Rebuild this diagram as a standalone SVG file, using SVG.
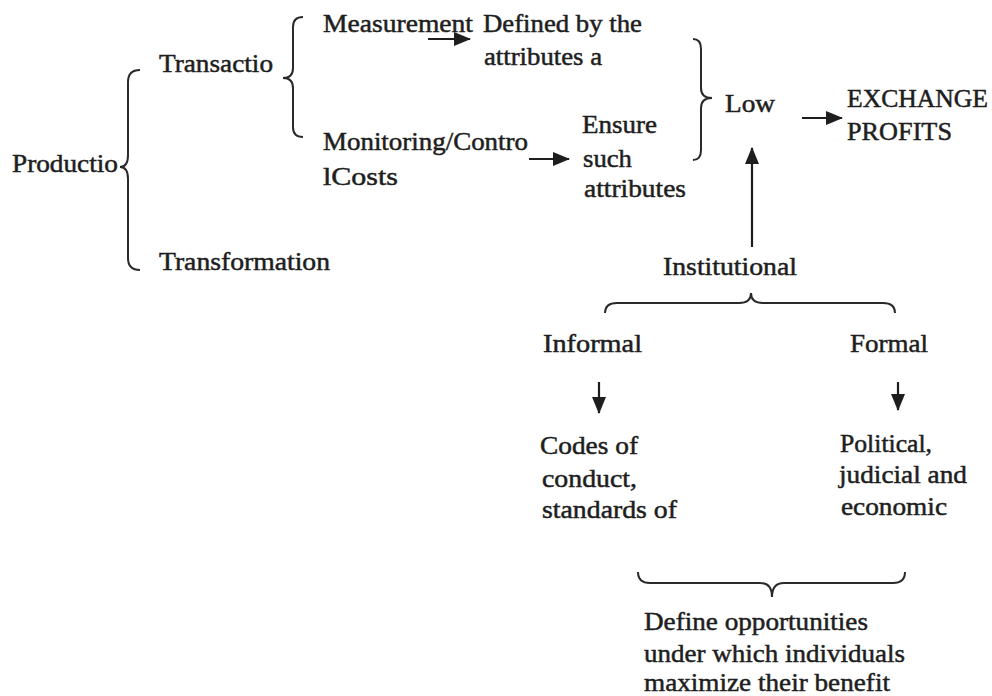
<svg xmlns="http://www.w3.org/2000/svg" width="992" height="696" viewBox="0 0 992 696">
<style>
text{font-family:"Liberation Serif","Times New Roman",serif;font-size:26px;fill:#1e1e1e;stroke:#1e1e1e;stroke-width:0.5;}
.br{fill:none;stroke:#2a2a2a;stroke-width:2;}
.ar{fill:none;stroke:#1e1e1e;stroke-width:2.2;}
</style>
<defs>
<marker id="ah" markerUnits="userSpaceOnUse" markerWidth="17" markerHeight="14" refX="16" refY="7" orient="auto">
<path d="M0,0 L17,7 L0,14 Z" fill="#1e1e1e"/>
</marker>
</defs>
<rect width="992" height="696" fill="#fff"/>
<g id="connectors">
<path class="br" d="M140,70 Q128,70 128,82 L128,155 Q128,167 120,167 Q128,167 128,179 L128,258 Q128,270 140,270"/>
<path class="br" d="M303,17 Q293,17 293,27 L293,68 Q293,78 283,78 Q293,78 293,88 L293,127 Q293,137 303,137"/>
<path class="br" d="M693,39 Q701,39 701,49 L701,88 Q701,98 712,98 Q701,98 701,108 L701,150 Q701,160 693,160"/>
<path class="br" d="M605,313 Q605,303 617,303 L739,303 Q751,303 751,293 Q751,303 763,303 L883,303 Q895,303 895,313"/>
<path class="br" d="M638,572 Q638,583 650,583 L760,583 Q772,583 772,597 Q772,583 784,583 L893,583 Q905,583 905,572"/>
<line class="ar" x1="428" y1="39" x2="470" y2="39" marker-end="url(#ah)"/>
<line class="ar" x1="529" y1="159" x2="569" y2="159" marker-end="url(#ah)"/>
<line class="ar" x1="802" y1="118" x2="842" y2="118" marker-end="url(#ah)"/>
<line class="ar" x1="752" y1="247" x2="752" y2="148" marker-end="url(#ah)"/>
<line class="ar" x1="599" y1="382" x2="599" y2="413" marker-end="url(#ah)"/>
<line class="ar" x1="898" y1="382" x2="898" y2="410" marker-end="url(#ah)"/>
</g>
<g id="production"><text x="12" y="172" textLength="106" lengthAdjust="spacingAndGlyphs">Productio</text></g>
<g id="transaction"><text x="159" y="72" textLength="114" lengthAdjust="spacingAndGlyphs">Transactio</text></g>
<g id="transformation"><text x="159" y="270" textLength="171" lengthAdjust="spacingAndGlyphs">Transformation</text></g>
<g id="measurement"><text x="323" y="32" textLength="150" lengthAdjust="spacingAndGlyphs">Measurement</text></g>
<g id="defined">
<text x="483" y="32" textLength="159" lengthAdjust="spacingAndGlyphs">Defined by the</text>
<text x="484" y="65" textLength="118" lengthAdjust="spacingAndGlyphs">attributes a</text>
</g>
<g id="monitoring">
<text x="323" y="150" textLength="205" lengthAdjust="spacingAndGlyphs">Monitoring/Contro</text>
<text x="323" y="185" textLength="75" lengthAdjust="spacingAndGlyphs">lCosts</text>
</g>
<g id="ensure">
<text x="582" y="133" textLength="75" lengthAdjust="spacingAndGlyphs">Ensure</text>
<text x="583" y="167" textLength="49" lengthAdjust="spacingAndGlyphs">such</text>
<text x="584" y="197" textLength="102" lengthAdjust="spacingAndGlyphs">attributes</text>
</g>
<g id="low"><text x="725" y="112" textLength="50" lengthAdjust="spacingAndGlyphs">Low</text></g>
<g id="exchange">
<text x="847" y="107" textLength="141" lengthAdjust="spacingAndGlyphs">EXCHANGE</text>
<text x="847" y="140" textLength="105" lengthAdjust="spacingAndGlyphs">PROFITS</text>
</g>
<g id="institutional"><text x="663" y="275" textLength="134" lengthAdjust="spacingAndGlyphs">Institutional</text></g>
<g id="informal"><text x="543" y="352" textLength="99" lengthAdjust="spacingAndGlyphs">Informal</text></g>
<g id="formal"><text x="850" y="352" textLength="78" lengthAdjust="spacingAndGlyphs">Formal</text></g>
<g id="codes">
<text x="540" y="454" textLength="98" lengthAdjust="spacingAndGlyphs">Codes of</text>
<text x="542" y="487" textLength="95" lengthAdjust="spacingAndGlyphs">conduct,</text>
<text x="542" y="518" textLength="135" lengthAdjust="spacingAndGlyphs">standards of</text>
</g>
<g id="political">
<text x="840" y="452" textLength="92" lengthAdjust="spacingAndGlyphs">Political,</text>
<text x="839" y="483" textLength="128" lengthAdjust="spacingAndGlyphs">judicial and</text>
<text x="841" y="515" textLength="106" lengthAdjust="spacingAndGlyphs">economic</text>
</g>
<g id="define">
<text x="644" y="630" textLength="224" lengthAdjust="spacingAndGlyphs">Define opportunities</text>
<text x="644" y="662" textLength="261" lengthAdjust="spacingAndGlyphs">under which individuals</text>
<text x="644" y="691" textLength="246" lengthAdjust="spacingAndGlyphs">maximize their benefit</text>
</g>
</svg>
